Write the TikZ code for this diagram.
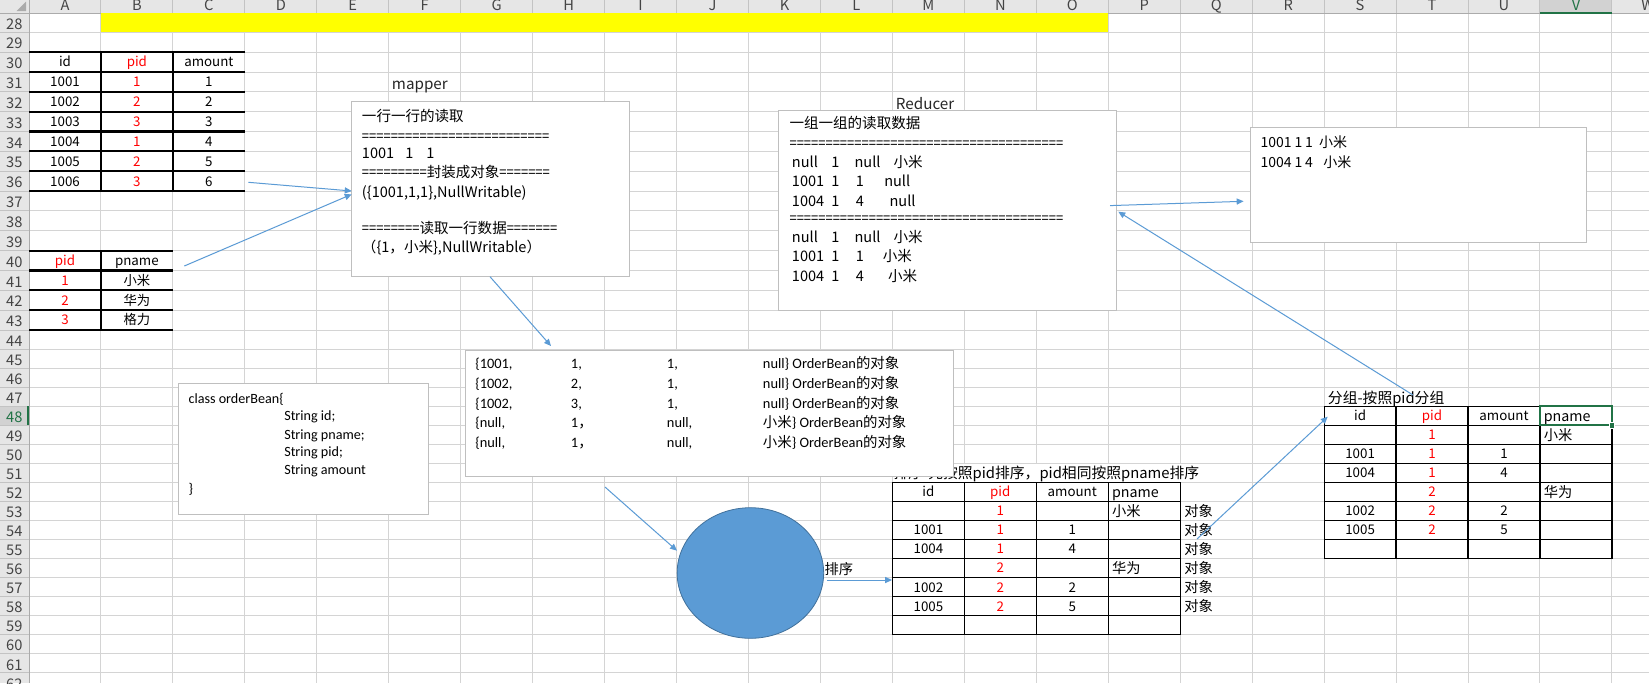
\documentclass[tikz,border=0pt]{standalone}
\usepackage{fontspec}
\setmainfont{Noto Sans CJK SC}
\newfontfamily\calib{Carlito}
\newfontfamily\cjk{Noto Sans CJK SC}
\usetikzlibrary{arrows.meta,shapes.geometric,fit}
\definecolor{gridc}{HTML}{D4D4D4}
\definecolor{hdrbg}{HTML}{E6E6E6}
\definecolor{hdrln}{HTML}{C3C3C3}
\definecolor{hdrln2}{HTML}{ABABAB}
\definecolor{hdrtx}{HTML}{444444}
\definecolor{selbg}{HTML}{D2D2D2}
\definecolor{xlgreen}{HTML}{217346}
\definecolor{arrowc}{HTML}{5B9BD5}
\definecolor{boxln}{HTML}{BFBFBF}
\definecolor{ellfill}{HTML}{5B9BD5}
\definecolor{elldraw}{HTML}{41719C}
\definecolor{redtx}{HTML}{FF0000}
\definecolor{labc}{HTML}{262626}
\definecolor{xlyellow}{HTML}{FFFF00}
\newlength\px
\setlength\px{0.75pt}
\newcommand\fsCell{\fontsize{10pt}{12pt}\selectfont}
\newcommand\fsBig{\fontsize{10.7pt}{13pt}\selectfont}
\newcommand\fsTitle{\fontsize{11.1pt}{13pt}\selectfont}
\newcommand\fsBox{\fontsize{10.9pt}{13pt}\selectfont}
\newcommand\fsLab{\fontsize{11.4pt}{13pt}\selectfont}
\newcommand\fsCal{\calib\fontsize{10.6pt}{13pt}\selectfont}
\newcommand\fsOB{\calib\fontsize{10.8pt}{13pt}\selectfont}
\newcommand\fsHdr{\fontsize{11pt}{13pt}\selectfont}
\newcommand\eqrun[1]{\scalebox{0.893}[1]{#1}}
\begin{document}
\begin{tikzpicture}[x=0.75pt,y=-0.75pt,
  cellc/.style={inner sep=0pt,anchor=base,font=\fsCell},
  celll/.style={inner sep=0pt,anchor=base west,font=\fsBig},
  titlet/.style={inner sep=0pt,anchor=base west,font=\fsTitle},
  boxt/.style={inner sep=0pt,anchor=base west,font=\fsBox},
  outt/.style={inner sep=0pt,anchor=base west,font=\fontsize{10.5pt}{13pt}\selectfont},
  calt/.style={inner sep=0pt,anchor=base west,font=\fsCal},
  obt/.style={inner sep=0pt,anchor=base west,font=\fsOB},
  labt/.style={inner sep=0pt,anchor=base west,font=\fsLab,text=labc},
  hdrt/.style={inner sep=0pt,anchor=base,font=\fsHdr,text=hdrtx},
  box/.style={draw=boxln,fill=white,line width=0.75pt,inner sep=0pt},
  conn/.style={draw=arrowc,line width=0.75pt,-{Triangle[length=5.2pt,width=4.6pt]}},
  thickb/.style={line width=1.6pt,black},
  thinb/.style={line width=0.9pt,black},
  gridl/.style={draw=gridc,line width=0.75pt}]

\useasboundingbox (0,0) rectangle (1649,683);
\clip (0,0) rectangle (1649,683);
\fill[white] (0,0) rectangle (1649,683);

% ---------- grid ----------
\foreach \k in {1,...,22} \draw[gridl] ({29+71.95*\k},13.3) -- ({29+71.95*\k},683);
\foreach \r in {29,...,62}{
  \pgfmathsetmacro\yt{\r<44 ? 32.3+(\r-29)*19.85 : 330.05+(\r-44)*19.05}
  \draw[gridl] (29,\yt) -- (1649,\yt);
}

% ---------- headers ----------
\fill[hdrbg] (0,0) rectangle (1649,13.3);
\fill[hdrbg] (0,13.3) rectangle (29,683);
\fill[selbg] (1539.95,0) rectangle (1611.9,13.3);
\fill[selbg] (0,406.25) rectangle (29,425.3);
\foreach \k in {0,...,22} \draw[hdrln,line width=0.75pt] ({29+71.95*\k},0) -- ({29+71.95*\k},13.3);
\foreach \r in {29,...,62}{
  \pgfmathsetmacro\yt{\r<44 ? 32.3+(\r-29)*19.85 : 330.05+(\r-44)*19.05}
  \draw[hdrln,line width=0.75pt] (0,\yt) -- (29,\yt);
}
\draw[hdrln2,line width=0.75pt] (0,13.3) -- (1649,13.3);
\draw[hdrln2,line width=0.75pt] (29,0) -- (29,683);
\draw[xlgreen,line width=1.5pt] (1539.95,12.6) -- (1611.9,12.6);
\draw[xlgreen,line width=1.5pt] (28.3,406.25) -- (28.3,425.3);
\fill[hdrln2] (26,1.5) -- (26,11) -- (16.5,11) -- cycle;
\foreach \k/\L in {0/A,1/B,2/C,3/D,4/E,5/F,6/G,7/H,8/I,9/J,10/K,11/L,12/M,13/N,14/O,15/P,16/Q,17/R,18/S,19/T,20/U,21/V,22/W}
  \node[hdrt] (col\L) at ({65+71.95*\k},10.6) {\ifnum\k=21 \color{xlgreen}\fi\L};
\foreach \r in {28,...,62}{
  \pgfmathsetmacro\yt{\r==28 ? 13.3 : (\r<44 ? 32.3+(\r-29)*19.85 : 330.05+(\r-44)*19.05)}
  \pgfmathsetmacro\hh{\r==28 ? 19 : (\r<44 ? 19.85 : 19.05)}
  \node[hdrt] (row\r) at (14.3,\yt+\hh/2+6.6) {\ifnum\r=48 \color{xlgreen}\fi\r};
}

% ---------- fills ----------
\fill[xlyellow] (100.95,13.3) rectangle (1108.25,32.3);
\fill[white] (893,463.9) rectangle (1251.6,481.95);
\fill[white] (1324.6,387.7) rectangle (1467.5,405.75);

% ---------- table 1 ----------
\node[inner sep=0pt,fit={(29,52.15) (244.85,191.1)}] (tabA) {};
\foreach \yy in {52.15,72,91.85,111.7,131.55,151.4,171.25,191.1}
  \draw[thickb] (29,\yy) -- (244.85,\yy);
\draw[thickb] (100.95,52.15) -- (100.95,191.1);
\draw[thickb] (172.9,52.15) -- (172.9,191.1);
\foreach \r/\yy/\a/\b/\c in {0/62.1/id/pid/amount,1/81.9/1001/1/1,2/101.8/1002/2/2,3/121.6/1003/3/3,4/141.5/1004/1/4,5/161.3/1005/2/5,6/181.2/1006/3/6}{
  \node[cellc] (ta\r) at (65,\yy+4.8) {\a};
  \node[cellc,text=redtx] (tb\r) at (136.9,\yy+4.8) {\b};
  \node[cellc] (tc\r) at (208.9,\yy+4.8) {\c};
}

% ---------- table 2 ----------
\node[inner sep=0pt,fit={(29,250.65) (172.9,330.05)}] (tabB) {};
\foreach \yy in {250.65,270.5,290.35,310.2,330.05}
  \draw[thickb] (29,\yy) -- (172.9,\yy);
\draw[thickb] (100.95,250.65) -- (100.95,330.05);
\foreach \r/\yy/\a/\b in {0/260.6/pid/pname,1/280.4/1/小米,2/300.3/2/华为,3/320.1/3/格力}{
  \node[cellc,text=redtx] (pa\r) at (65,\yy+4.8) {\a};
  \node[cellc] (pb\r) at (136.9,\yy+4.8) {\b};
}

% ---------- sorted table ----------
\node[titlet] (sorttitle) at (893.3,478.8) {排序-先按照pid排序，pid相同按照pname排序};
\node[inner sep=0pt,fit={(892.4,482.45) (1180.2,634.85)}] (tabS) {};
\foreach \yy in {482.45,501.5,520.55,539.6,558.65,577.7,596.75,615.8,634.85}
  \draw[thinb] (892.4,\yy) -- (1180.2,\yy);
\foreach \xx in {892.4,964.35,1036.3,1108.25,1180.2}
  \draw[thinb] (\xx,482.45) -- (\xx,634.85);
\foreach \r/\yy/\a/\b/\c/\d in {0/491.9/id/pid/amount/pname,1/511.0//1//小米,2/530.0/1001/1/1/,3/549.1/1004/1/4/,4/568.1//2//华为,5/587.2/1002/2/2/,6/606.2/1005/2/5/}{
  \node[cellc] (sa\r) at (928.4,\yy+4.8) {\a};
  \node[cellc,text=redtx] (sb\r) at (1000.3,\yy+4.8) {\b};
  \node[cellc] (sc\r) at (1072.3,\yy+4.8) {\c};
  \node[celll] (sd\r) at (1111.8,\yy+5.3) {\d};
}
\foreach \r/\yy in {1/511.0,2/530.0,3/549.1,4/568.1,5/587.2,6/606.2}
  \node[celll] (so\r) at (1184,\yy+5.3) {对象};

% ---------- group table ----------
\node[titlet] (grptitle) at (1327.7,403.8) {分组-按照pid分组};
\node[inner sep=0pt,fit={(1324.1,406.25) (1611.9,558.65)}] (tabG) {};
\foreach \yy in {406.25,425.3,444.35,463.4,482.45,501.5,520.55,539.6,558.65}
  \draw[thinb] (1324.1,\yy) -- (1611.9,\yy);
\foreach \xx in {1324.1,1396.05,1468,1539.95,1611.9}
  \draw[thinb] (\xx,406.25) -- (\xx,558.65);
\foreach \r/\yy/\a/\b/\c/\d in {0/415.7/id/pid/amount/pname,1/434.8//1//小米,2/453.8/1001/1/1/,3/472.9/1004/1/4/,4/491.9//2//华为,5/511.0/1002/2/2/,6/530.0/1005/2/5/}{
  \node[cellc] (ga\r) at (1360.1,\yy+4.8) {\a};
  \node[cellc,text=redtx] (gb\r) at (1432,\yy+4.8) {\b};
  \node[cellc] (gc\r) at (1504,\yy+4.8) {\c};
  \node[celll] (gd\r) at (1543.5,\yy+5.3) {\d};
}
\draw[xlgreen,line width=1.6pt] (1539.95,406.25) rectangle (1611.9,425.3);
\fill[xlgreen,draw=white,line width=0.5pt] (1609.2,422.6) rectangle (1614.6,428);

% ---------- labels ----------
\node[labt] (maplab) at (391.7,89.6) {mapper};
\node[labt] (redlab) at (895.7,109.6) {Reducer};

% ---------- boxes ----------
\node[box,fit={(351.7,101.7) (629.3,276)}] (mapper) {};
\node[box,fit={(778.3,110.7) (1116.7,310)}] (reducer) {};
\node[box,fit={(1250.6,127.7) (1586.7,242.3)}] (result) {};
\node[box,fit={(465.7,350) (953.3,476)}] (beans) {};
\node[box,fit={(178.3,383.3) (428.3,514)}] (classbox) {};

% mapper text
\node[boxt] (m1) at (361.7,121) {一行一行的读取};
\node[boxt] (m2) at (361.7,141) {\eqrun{==========================}};
\node[boxt] (m3) at (361.7,158.7) {\makebox[43.3\px][l]{1001}\makebox[21\px][l]{1}1};
\node[boxt] (m4) at (361.7,177.1) {\eqrun{=========}封装成对象\eqrun{=======}};
\node[boxt] (m5) at (361.7,197.1) {(\{1001,1,1\},NullWritable)};
\node[boxt] (m6) at (361.7,233.1) {\eqrun{========}读取一行数据\eqrun{=======}};
\node[boxt] (m7) at (361.7,252.1) {（\{1，小米\},NullWritable）};

% reducer text
\node[boxt] (r1) at (789.3,128.7) {一组一组的读取数据};
\node[boxt] (r2) at (789.3,148.7) {\eqrun{======================================}};
\node[boxt] (r3) at (791.7,167.1) {\makebox[39.3\px][l]{null}\makebox[23.3\px][l]{1}\makebox[39\px][l]{null}小米};
\node[boxt] (r4) at (791.7,186.4) {\makebox[39.3\px][l]{1001}\makebox[24.7\px][l]{1}\makebox[28.3\px][l]{1}null};
\node[boxt] (r5) at (791.7,206.1) {\makebox[39.3\px][l]{1004}\makebox[24.7\px][l]{1}\makebox[33.6\px][l]{4}null};
\node[boxt] (r6) at (789.3,223.7) {\eqrun{======================================}};
\node[boxt] (r7) at (791.7,242.1) {\makebox[39.3\px][l]{null}\makebox[23.3\px][l]{1}\makebox[39\px][l]{null}小米};
\node[boxt] (r8) at (791.7,261.4) {\makebox[39.3\px][l]{1001}\makebox[24.7\px][l]{1}\makebox[26.8\px][l]{1}小米};
\node[boxt] (r9) at (791.7,281.4) {\makebox[39.3\px][l]{1004}\makebox[24.7\px][l]{1}\makebox[32.1\px][l]{4}小米};

% result text
\node[outt] (o1) at (1260.4,147.1) {\makebox[33.9\px][l]{1001}\makebox[10.5\px][l]{1}\makebox[14\px][l]{1}小米};
\node[outt] (o2) at (1260.4,167.1) {\makebox[33.9\px][l]{1004}\makebox[10.5\px][l]{1}\makebox[18.2\px][l]{4}小米};

% beans text
\node[obt] (b11) at (475,368.8) {\{1001,};
\node[obt] (b12) at (570.7,368.8) {1,};
\node[obt] (b13) at (666.7,368.8) {1,};
\node[obt] (b14) at (762.7,368.8) {null\} OrderBean{\cjk 的对象}};
\node[obt] (b21) at (475,388.8) {\{1002,};
\node[obt] (b22) at (570.7,388.8) {2,};
\node[obt] (b23) at (666.7,388.8) {1,};
\node[obt] (b24) at (762.7,388.8) {null\} OrderBean{\cjk 的对象}};
\node[obt] (b31) at (475,408.1) {\{1002,};
\node[obt] (b32) at (570.7,408.1) {3,};
\node[obt] (b33) at (666.7,408.1) {1,};
\node[obt] (b34) at (762.7,408.1) {null\} OrderBean{\cjk 的对象}};
\node[obt] (b41) at (475,427.5) {\{null,};
\node[obt] (b42) at (570.7,427.5) {1{\cjk ，}};
\node[obt] (b43) at (666.7,427.5) {null,};
\node[obt] (b44) at (762.7,427.5) {{\cjk 小米}\} OrderBean{\cjk 的对象}};
\node[obt] (b51) at (475,447.5) {\{null,};
\node[obt] (b52) at (570.7,447.5) {1{\cjk ，}};
\node[obt] (b53) at (666.7,447.5) {null,};
\node[obt] (b54) at (762.7,447.5) {{\cjk 小米}\} OrderBean{\cjk 的对象}};

% class text
\node[calt] (c1) at (188.3,403) {class orderBean\{};
\node[calt] (c2) at (284,420.7) {String id;};
\node[calt] (c3) at (284,439) {String pname;};
\node[calt] (c4) at (284,456.4) {String pid;};
\node[calt] (c5) at (284,474) {String amount};
\node[calt] (c6) at (188.3,493) {\}};

% ellipse and its label
\node[ellipse,fill=ellfill,draw=elldraw,line width=0.6pt,minimum width=109.9pt,minimum height=97.95pt,inner sep=0pt] (sorter) at (750.4,573) {};
\node[celll] (sortlab) at (824.3,574.6) {排序};

% ---------- connectors ----------
\coordinate (a1s) at (248.3,182.3);  \coordinate (a1e) at (351.7,191);
\coordinate (a2s) at (184.3,266);    \coordinate (a2e) at (351.7,194.3);
\coordinate (a3s) at (490,276.7);    \coordinate (a3e) at (551,346);
\coordinate (a4s) at (605,487);      \coordinate (a4e) at (677,550.7);
\coordinate (a5s) at (827,580);      \coordinate (a5e) at (892,580);
\coordinate (a6s) at (1197,539);     \coordinate (a6e) at (1327.7,416.7);
\coordinate (a7s) at (1413,395);     \coordinate (a7e) at (1118.3,211.7);
\coordinate (a8s) at (1110,205.6);   \coordinate (a8e) at (1243.6,201.3);
\draw[conn] (a1s) -- (a1e);
\draw[conn] (a2s) -- (a2e);
\draw[conn] (a3s) -- (a3e);
\draw[conn] (a4s) -- (a4e);
\draw[conn] (a5s) -- (a5e);
\draw[conn] (a6s) -- (a6e);
\draw[conn] (a7s) -- (a7e);
\draw[conn] (a8s) -- (a8e);
\end{tikzpicture}
\end{document}
